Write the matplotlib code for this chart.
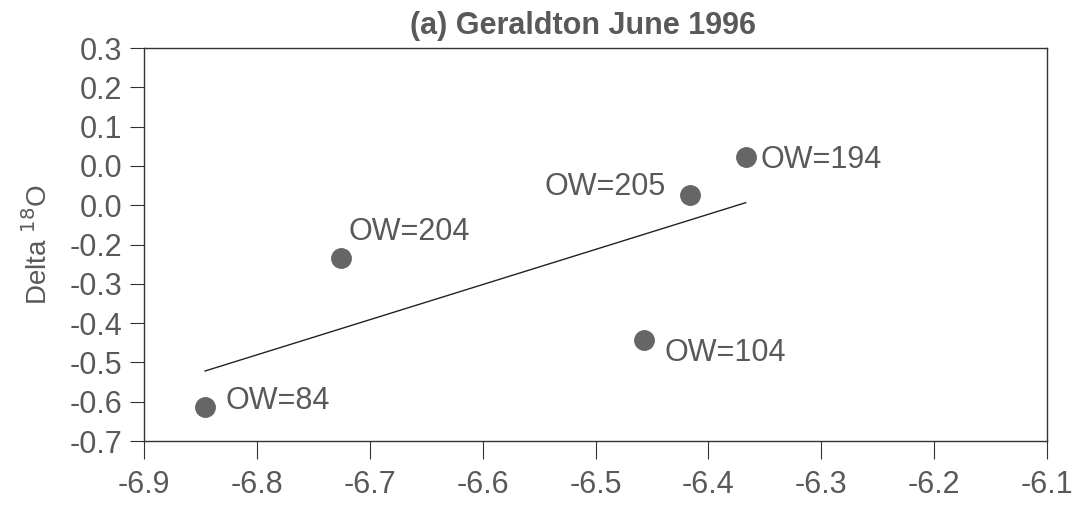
import numpy as np
import matplotlib
matplotlib.use("Agg")
import matplotlib.pyplot as plt
from matplotlib.ticker import FixedLocator, FixedFormatter

plt.rcParams['font.family'] = ['Liberation Sans', 'DejaVu Sans']

# samples: x value, delta 18O, label
labels = ["OW=84", "OW=204", "OW=205", "OW=194", "OW=104"]
x_vals = [-6.846, -6.726, -6.416, -6.367, -6.457]
d18o = [-0.613, -0.234, -0.074, 0.023, -0.443]

y_ticks = [0.3, 0.2, 0.1, 0.0, -0.1, -0.2, -0.3, -0.4, -0.5, -0.6, -0.7]
y_tick_labels = ["0.3", "0.2", "0.1", "0.0", "0.0", "-0.2", "-0.3", "-0.4", "-0.5", "-0.6", "-0.7"]
x_ticks = [-6.9, -6.8, -6.7, -6.6, -6.5, -6.4, -6.3, -6.2, -6.1]

# label offsets in points, with horizontal alignment
label_offsets = [(15, 4, "left"), (6, 19, "left"), (-18, 6, "right"), (11, -2, "left"), (15, -9, "left")]

TEXT = "#595959"
DOT = "#666666"

fig = plt.figure(figsize=(10.76, 5.17), dpi=100)
ax = fig.add_axes([0.134, 0.147, 0.839, 0.760])

ax.plot(x_vals, d18o, "o", color=DOT, markersize=14, zorder=3)

# least squares line over the data range
slope, icpt = np.polyfit(x_vals, d18o, 1)
xl = np.array([min(x_vals), max(x_vals)])
ax.plot(xl, slope * xl + icpt, color="#222222", lw=1.0)

for x, y, lab, (dx, dy, ha) in zip(x_vals, d18o, labels, label_offsets):
    ax.annotate(lab, (x, y), xytext=(dx, dy), textcoords="offset points",
                ha=ha, va="center", fontsize=22, color=TEXT)

ax.set_xlim(-6.9, -6.1)
ax.set_ylim(-0.7, 0.3)
ax.set_xticks(x_ticks)
ax.set_xticklabels([f"{t:.1f}" for t in x_ticks])
ax.yaxis.set_major_locator(FixedLocator(y_ticks))
ax.yaxis.set_major_formatter(FixedFormatter(y_tick_labels))
ax.tick_params(axis="both", labelsize=22, labelcolor=TEXT, color="#333333", direction="out")
ax.tick_params(axis="y", length=10, pad=6)
ax.tick_params(axis="x", length=13, pad=8)
for sp in ax.spines.values():
    sp.set_color("#333333")
    sp.set_linewidth(1.0)

ax.set_ylabel("Delta $^{18}$O", fontsize=20, color=TEXT, labelpad=12)
ax.set_title("(a) Geraldton June 1996", fontsize=22, fontweight="bold", color=TEXT, pad=10, x=0.486)

fig.savefig("out.png", dpi=100)
